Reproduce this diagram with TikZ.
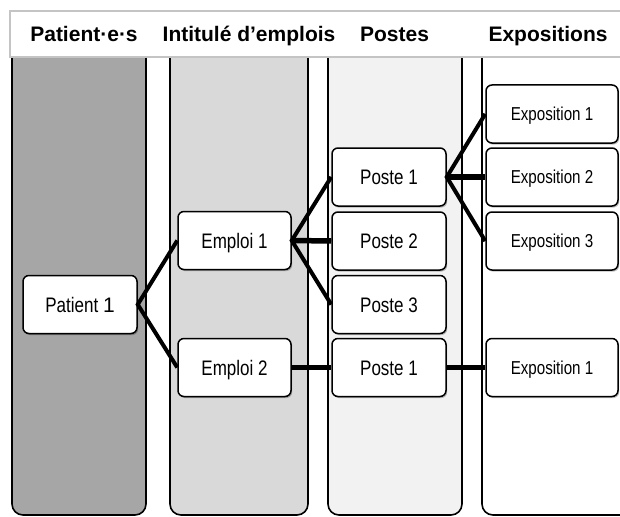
\documentclass[tikz,border=0pt]{standalone}
\usepackage{fontspec}
\setmainfont{Liberation Sans}
\newfontfamily\narrowfont[FakeStretch=0.81]{Liberation Sans}
\usetikzlibrary{shadows}
\definecolor{colA}{HTML}{A6A6A6}
\definecolor{colB}{HTML}{D9D9D9}
\definecolor{colC}{HTML}{F2F2F2}
\definecolor{hdrline}{HTML}{C4C4C4}
\tikzset{
  column/.style={draw=black, line width=1.6pt, rounded corners=11pt},
  headbar/.style={draw=hdrline, line width=1.2pt, fill=white},
  hdr/.style={font=\fontsize{21}{25}\selectfont\bfseries, inner sep=0pt, anchor=base},
  box/.style={draw=black, line width=1.5pt, fill=white, rounded corners=6pt,
    minimum height=58pt, inner sep=0pt, text height=15pt, text depth=0pt,
    font=\narrowfont\fontsize{21}{24}\selectfont,
    drop shadow={shadow xshift=1.2pt, shadow yshift=-1.6pt, opacity=0.25, fill=black}},
  expbox/.style={box, minimum width=132pt, text height=13.4pt, font=\narrowfont\fontsize{18.7}{22}\selectfont},
  diag/.style={draw=black, line width=4pt, line join=miter},
  hlink/.style={draw=black, line width=5.5pt}
}
\begin{document}
\begin{tikzpicture}[x=1pt, y=-1pt]
\useasboundingbox (0,0) rectangle (620,516);
\clip (0,0) rectangle (620,516);
% columns
\path[column, fill=colA] (12,40) rectangle (146,515);
\path[column, fill=colB] (170,40) rectangle (308,515);
\path[column, fill=colC] (328,40) rectangle (462,515);
\path[column, fill=white] (482,40) rectangle (680,515);
% header bar
\path[headbar] (10,11) rectangle (680,57);
\node[hdr] (h1) at (84,41.5) {Patient·e·s};
\node[hdr] (h2) at (249,41.5) {Intitulé d’emplois};
\node[hdr] (h3) at (394.5,41.5) {Postes};
\node[hdr] (h4) at (548,41.5) {Expositions};
% boxes
\node[box, minimum width=114pt] (pat) at (80,304.5) {Patient {\rmfamily\fontsize{21}{24}\selectfont 1}};
\node[box, minimum width=113pt] (em1) at (234.5,240.5) {Emploi 1};
\node[box, minimum width=113pt] (em2) at (234.5,367.5) {Emploi 2};
\node[box, minimum width=114pt] (p1) at (389,177) {Poste 1};
\node[box, minimum width=114pt] (p2) at (389,241) {Poste 2};
\node[box, minimum width=114pt] (p3) at (389,304.5) {Poste 3};
\node[box, minimum width=114pt] (p4) at (389,367.5) {Poste 1};
\node[expbox] (e1) at (552,114) {Exposition 1};
\node[expbox] (e2) at (552,177) {Exposition 2};
\node[expbox] (e3) at (552,241) {Exposition 3};
\node[expbox] (e4) at (552,367.5) {Exposition 1};
% connectors
\path[diag] (em1.west) -- (pat.east) -- (em2.west);
\path[diag] (p1.west) -- (em1.east) -- (p3.west);
\path[hlink] (em1.east) -- (p2.west);
\path[diag] (e1.west) -- (p1.east) -- (e3.west);
\path[hlink] (p1.east) -- (e2.west);
\path[hlink] (em2.east) -- (p4.west);
\path[hlink] (p4.east) -- (e4.west);
\end{tikzpicture}
\end{document}
